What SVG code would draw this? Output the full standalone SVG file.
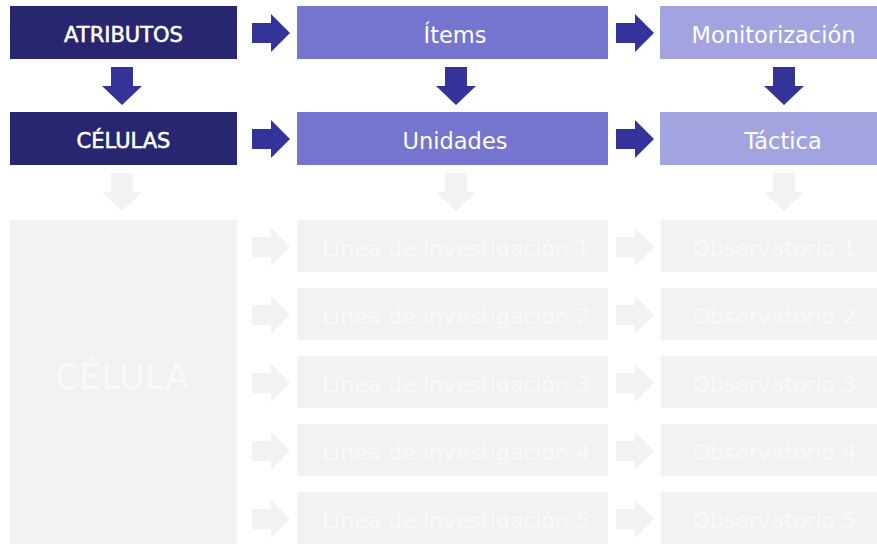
<svg xmlns="http://www.w3.org/2000/svg" width="877" height="544" viewBox="0 0 877 544">
<style>
text{font-family:"DejaVu Sans","Liberation Sans",sans-serif;text-anchor:middle;dominant-baseline:central}
.t{font-size:22.5px;fill:#ffffff}
.b{font-size:21px;stroke:#ffffff;stroke-width:0.55}
.dark{fill:#27266f}
.mid{fill:#7575d0}
.light{fill:#a3a3e0}
.fade{fill:#f2f2f2}
.ft{font-size:22px;fill:#f9f9f9}
.ar{fill:#333399}
.fa{fill:#f2f2f2}
</style>
<defs>
<path id="ra" d="M0,-10 H19 V-19 L38,0 L19,19 V10 H0 Z"/>
<path id="da" d="M-11,0 H11 V19 H20 L0,38 L-20,19 H-11 Z"/>
</defs>
<g id="atributos"><rect class="dark" x="10" y="6" width="227" height="53"/><text class="t b" x="123.5" y="34.5">ATRIBUTOS</text></g>
<g id="items"><rect class="mid" x="297" y="6" width="311" height="53"/><text class="t" x="455" y="34.5">Ítems</text></g>
<g id="monitorizacion"><rect class="light" x="660" y="6" width="217" height="53"/><text class="t" x="773.5" y="34.5">Monitorización</text></g>
<g id="celulas"><rect class="dark" x="10" y="112" width="227" height="53"/><text class="t b" x="123.5" y="140.5">CÉLULAS</text></g>
<g id="unidades"><rect class="mid" x="297" y="112" width="311" height="53"/><text class="t" x="455" y="140.5">Unidades</text></g>
<g id="tactica"><rect class="light" x="660" y="112" width="217" height="53"/><text class="t" x="783" y="140.5">Táctica</text></g>
<g id="celula"><rect class="fade" x="10" y="220" width="227" height="324"/><text class="ft" x="122" y="377" style="font-size:35px">CÉLULA</text></g>
<g id="linea1"><rect class="fade" x="297" y="220" width="311" height="52"/><text class="ft" x="456" y="248">Línea de Investigación 1</text></g>
<g id="linea2"><rect class="fade" x="297" y="288" width="311" height="52"/><text class="ft" x="456" y="316">Línea de Investigación 2</text></g>
<g id="linea3"><rect class="fade" x="297" y="356" width="311" height="52"/><text class="ft" x="456" y="384">Línea de Investigación 3</text></g>
<g id="linea4"><rect class="fade" x="297" y="424" width="311" height="52"/><text class="ft" x="456" y="452">Línea de Investigación 4</text></g>
<g id="linea5"><rect class="fade" x="297" y="492" width="311" height="52"/><text class="ft" x="456" y="520">Línea de Investigación 5</text></g>
<g id="obs1"><rect class="fade" x="661" y="220" width="216" height="52"/><text class="ft" x="774.5" y="248">Observatorio 1</text></g>
<g id="obs2"><rect class="fade" x="661" y="288" width="216" height="52"/><text class="ft" x="774.5" y="316">Observatorio 2</text></g>
<g id="obs3"><rect class="fade" x="661" y="356" width="216" height="52"/><text class="ft" x="774.5" y="384">Observatorio 3</text></g>
<g id="obs4"><rect class="fade" x="661" y="424" width="216" height="52"/><text class="ft" x="774.5" y="452">Observatorio 4</text></g>
<g id="obs5"><rect class="fade" x="661" y="492" width="216" height="52"/><text class="ft" x="774.5" y="520">Observatorio 5</text></g>
<g id="connectors">
<use href="#ra" class="ar" x="252" y="33"/>
<use href="#ra" class="ar" x="616" y="33"/>
<use href="#ra" class="ar" x="252" y="139"/>
<use href="#ra" class="ar" x="616" y="139"/>
<use href="#da" class="ar" x="122" y="67"/>
<use href="#da" class="ar" x="456" y="67"/>
<use href="#da" class="ar" x="784" y="67"/>
<use href="#da" class="fa" x="122" y="173"/>
<use href="#da" class="fa" x="456" y="173"/>
<use href="#da" class="fa" x="784" y="173"/>
<use href="#ra" class="fa" x="252" y="247"/>
<use href="#ra" class="fa" x="616" y="247"/>
<use href="#ra" class="fa" x="252" y="315"/>
<use href="#ra" class="fa" x="616" y="315"/>
<use href="#ra" class="fa" x="252" y="383"/>
<use href="#ra" class="fa" x="616" y="383"/>
<use href="#ra" class="fa" x="252" y="451"/>
<use href="#ra" class="fa" x="616" y="451"/>
<use href="#ra" class="fa" x="252" y="519"/>
<use href="#ra" class="fa" x="616" y="519"/>
</g>
</svg>
